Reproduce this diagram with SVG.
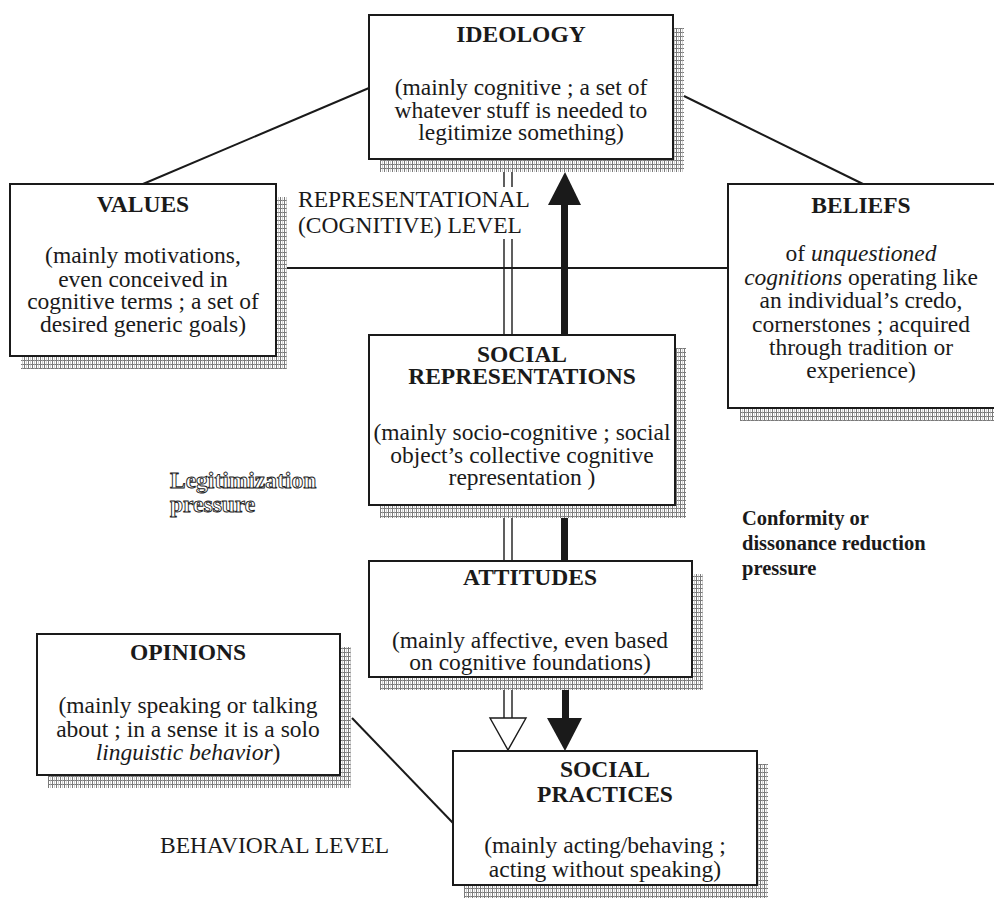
<svg xmlns="http://www.w3.org/2000/svg" width="994" height="902" viewBox="0 0 994 902">
  <defs>
    <!-- fine grey mesh used for the drop shadows of the boxes -->
    <pattern id="mesh" width="4" height="4" patternUnits="userSpaceOnUse">
      <rect width="4" height="4" fill="#ffffff"/>
      <path d="M0.5 0V4M0 0.5H4" stroke="#7a7a7a" stroke-width="1"/>
      <path d="M2.5 0V4" stroke="#b0b0b0" stroke-width="0.6"/>
    </pattern>
  </defs>
  <style>
    text { font-family: "Liberation Serif", "Times New Roman", serif; fill: #1a1a1a; }
    .box { fill: #ffffff; stroke: #1a1a1a; stroke-width: 2; }
    .shadow { fill: url(#mesh); }
    .title { font-size: 23.5px; font-weight: bold; text-anchor: middle; }
    .body { font-size: 23.5px; text-anchor: middle; }
    .label { font-size: 23.5px; }
    .bold { font-size: 20.5px; font-weight: bold; }
    .outline { font-size: 23.5px; font-weight: bold; fill: #ffffff; stroke: #222222; stroke-width: 0.9; }
    .thin { stroke: #1a1a1a; stroke-width: 2; fill: none; }
    .rail { stroke: #1a1a1a; stroke-width: 1.4; fill: none; }
  </style>

  <!-- connectors -->
  <g id="connectors">
    <line class="thin" x1="369" y1="88" x2="143" y2="184"/>
    <line class="thin" x1="684" y1="96" x2="863" y2="184"/>
    <line class="thin" x1="286" y1="268" x2="728" y2="268"/>
    <line class="thin" x1="352" y1="718" x2="453" y2="823"/>

    <!-- hollow (double-line) flow: ideology down to social practices -->
    <line class="rail" x1="504" y1="170" x2="504" y2="336"/>
    <line class="rail" x1="512" y1="170" x2="512" y2="336"/>
    <line class="rail" x1="504" y1="517" x2="504" y2="562"/>
    <line class="rail" x1="512" y1="517" x2="512" y2="562"/>
    <line class="rail" x1="504" y1="689" x2="504" y2="719"/>
    <line class="rail" x1="512" y1="689" x2="512" y2="719"/>
    <polygon points="490,718 526,718 508,750" fill="#ffffff" stroke="#1a1a1a" stroke-width="1.4"/>

    <!-- solid flow -->
    <rect x="561" y="203" width="7" height="133" fill="#1a1a1a"/>
    <polygon points="548,205 581,205 565,172" fill="#1a1a1a"/>
    <rect x="561" y="517" width="7" height="45" fill="#1a1a1a"/>
    <rect x="562" y="689" width="7" height="31" fill="#1a1a1a"/>
    <polygon points="547,718 582,718 565,751" fill="#1a1a1a"/>
  </g>

  <!-- level label sits on a white ground over the double line -->
  <g id="label-representational">
    <rect x="296" y="187" width="236" height="52" fill="#ffffff"/>
    <text class="label" x="298" y="207">REPRESENTATIONAL</text>
    <text class="label" x="298" y="233">(COGNITIVE) LEVEL</text>
  </g>

  <g id="ideology">
    <rect class="shadow" x="380" y="28" width="304" height="144"/>
    <rect class="box" x="369" y="15" width="304" height="144"/>
    <text class="title" x="521" y="42">IDEOLOGY</text>
    <text class="body" x="521" y="95">(mainly cognitive ; a set of</text>
    <text class="body" x="521" y="118">whatever stuff is needed to</text>
    <text class="body" x="521" y="140">legitimize something)</text>
  </g>

  <g id="values">
    <rect class="shadow" x="21" y="197" width="266" height="172"/>
    <rect class="box" x="10" y="184" width="266" height="172"/>
    <text class="title" x="143" y="212">VALUES</text>
    <text class="body" x="143" y="263">(mainly motivations,</text>
    <text class="body" x="143" y="287">even conceived in</text>
    <text class="body" x="143" y="309">cognitive terms ; a set of</text>
    <text class="body" x="143" y="332">desired generic goals)</text>
  </g>

  <g id="beliefs">
    <rect class="shadow" x="740" y="197" width="270" height="224"/>
    <rect class="box" x="728" y="184" width="270" height="224"/>
    <text class="title" x="861" y="213">BELIEFS</text>
    <text class="body" x="861" y="261">of <tspan font-style="italic">unquestioned</tspan></text>
    <text class="body" x="861" y="285"><tspan font-style="italic">cognitions</tspan> operating like</text>
    <text class="body" x="861" y="308">an individual’s credo,</text>
    <text class="body" x="861" y="332">cornerstones ; acquired</text>
    <text class="body" x="861" y="355">through tradition or</text>
    <text class="body" x="861" y="378">experience)</text>
  </g>

  <g id="social-representations">
    <rect class="shadow" x="380" y="348" width="306" height="170"/>
    <rect class="box" x="369" y="335" width="306" height="170"/>
    <text class="title" x="522" y="362">SOCIAL</text>
    <text class="title" x="522" y="384">REPRESENTATIONS</text>
    <text class="body" x="522" y="440">(mainly socio-cognitive ; social</text>
    <text class="body" x="522" y="463">object’s collective cognitive</text>
    <text class="body" x="522" y="485">representation )</text>
  </g>

  <g id="attitudes">
    <rect class="shadow" x="380" y="574" width="323" height="116"/>
    <rect class="box" x="369" y="561" width="323" height="116"/>
    <text class="title" x="530" y="585">ATTITUDES</text>
    <text class="body" x="530" y="648">(mainly affective, even based</text>
    <text class="body" x="530" y="670">on cognitive foundations)</text>
  </g>

  <g id="opinions">
    <rect class="shadow" x="48" y="647" width="303" height="141"/>
    <rect class="box" x="37" y="634" width="303" height="141"/>
    <text class="title" x="188" y="660">OPINIONS</text>
    <text class="body" x="188" y="713">(mainly speaking or talking</text>
    <text class="body" x="188" y="737">about ; in a sense it is a solo</text>
    <text class="body" x="188" y="760"><tspan font-style="italic">linguistic behavior</tspan>)</text>
  </g>

  <g id="social-practices">
    <rect class="shadow" x="464" y="764" width="304" height="134"/>
    <rect class="box" x="453" y="751" width="304" height="134"/>
    <text class="title" x="605" y="777">SOCIAL</text>
    <text class="title" x="605" y="802">PRACTICES</text>
    <text class="body" x="605" y="853">(mainly acting/behaving ;</text>
    <text class="body" x="605" y="877">acting without speaking)</text>
  </g>

  <g id="label-legitimization">
    <text class="outline" x="170" y="488">Legitimization</text>
    <text class="outline" x="170" y="512">pressure</text>
  </g>

  <g id="label-conformity">
    <text class="bold" x="742" y="525">Conformity or</text>
    <text class="bold" x="742" y="550">dissonance reduction</text>
    <text class="bold" x="742" y="575">pressure</text>
  </g>

  <g id="label-behavioral">
    <text class="label" x="160" y="853" font-size="24.5px">BEHAVIORAL LEVEL</text>
  </g>
</svg>
